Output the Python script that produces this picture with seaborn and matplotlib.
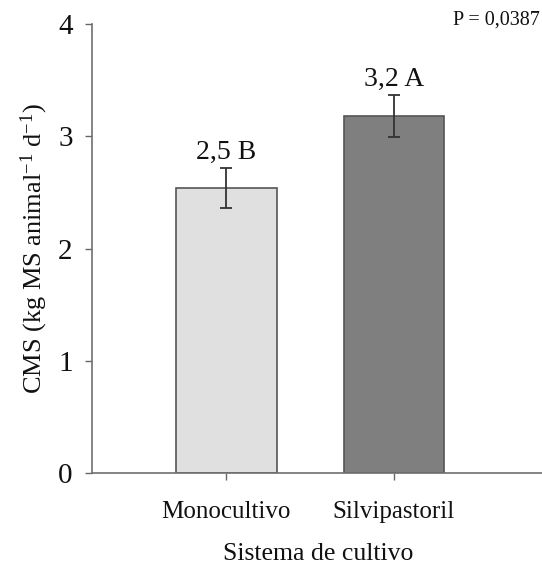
import matplotlib
matplotlib.use("Agg")
import matplotlib.pyplot as plt
import seaborn as sns
import pandas as pd

categories = ["Monocultivo", "Silvipastoril"]
values = [2.54, 3.18]
errors = [0.175, 0.185]
labels = ["2,5 B", "3,2 A"]
yticks = [0, 1, 2, 3, 4]
bar_colors = ["#e0e0e0", "#7f7f7f"]

sns.set_style("white")
plt.rcParams["font.family"] = ["Liberation Serif", "DejaVu Serif"]
plt.rcParams["mathtext.fontset"] = "custom"
plt.rcParams["mathtext.rm"] = "Liberation Serif"
plt.rcParams["mathtext.it"] = "Liberation Serif:italic"
plt.rcParams["mathtext.bf"] = "Liberation Serif:bold"
plt.rcParams["text.color"] = "#111111"
plt.rcParams["axes.labelcolor"] = "#111111"
plt.rcParams["xtick.color"] = "#111111"
plt.rcParams["ytick.color"] = "#111111"

df = pd.DataFrame({"cat": categories, "val": values})

fig = plt.figure(figsize=(5.42, 5.65), dpi=100)
ax = fig.add_axes([0.170, 0.1623, 0.835, 0.7952])

sns.barplot(data=df, x="cat", y="val", hue="cat", palette=bar_colors,
            width=0.6, edgecolor="#555555", linewidth=1.2, legend=False, ax=ax,
            errorbar=None)
ax.errorbar(x=[0, 1], y=values, yerr=errors, fmt="none", ecolor="#333333",
            elinewidth=1.3, capsize=4.5, capthick=1.3)
for i, (v, e, t) in enumerate(zip(values, errors, labels)):
    ax.text(i, v + e + 0.03, t, ha="center", va="bottom", fontsize=20)

ax.set_xlim(-0.8, 1.9)
ax.set_ylim(0, 4)
ax.set_yticks(yticks)
ax.set_yticklabels([str(t) for t in yticks], fontsize=21)
ax.tick_params(axis="y", left=True, direction="out", length=5, width=1,
               color="#666666", pad=9, labelcolor="#111111")
ax.tick_params(axis="x", bottom=True, direction="out", length=5, width=1,
               color="#666666", labelsize=18, pad=15, labelcolor="#111111")
for s in ["top", "right"]:
    ax.spines[s].set_visible(False)
for s in ["left", "bottom"]:
    ax.spines[s].set_color("#707070")
    ax.spines[s].set_linewidth(1.2)

ax.set_xlabel("Sistema de cultivo", fontsize=18.5, labelpad=14)
ax.set_ylabel("CMS (kg MS animal$^{\\mathregular{-1}}$ d$^{\\mathregular{-1}}$)",
              fontsize=19, labelpad=6)
fig.text(0.997, 0.964, "P = 0,0387", ha="right", va="center", fontsize=14.5)

fig.savefig("out.png", dpi=100)
